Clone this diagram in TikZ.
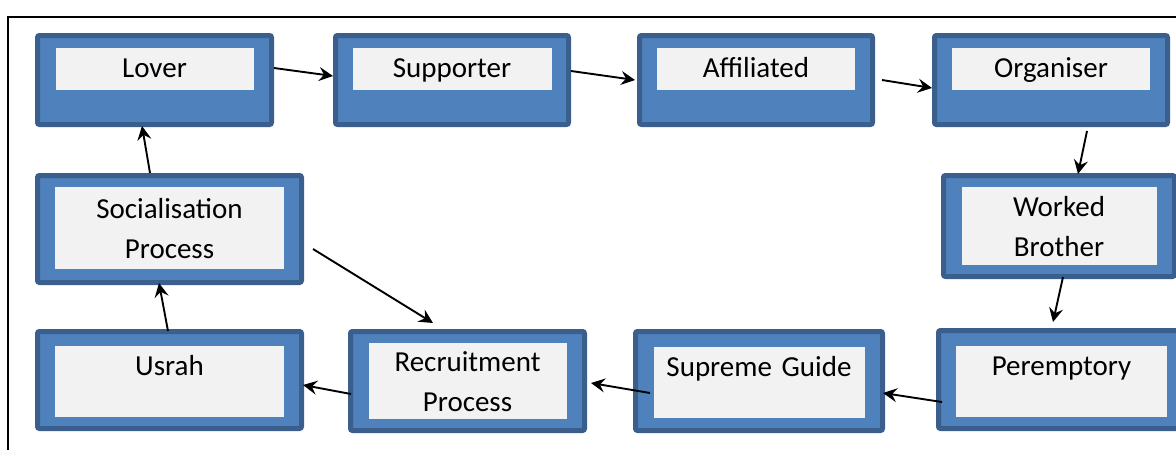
\documentclass[tikz,border=0pt]{standalone}
\usepackage{fontspec}
\setmainfont{Carlito}
\usetikzlibrary{arrows.meta,positioning}
\definecolor{boxblue}{HTML}{4F81BD}
\definecolor{boxedge}{HTML}{3A5F8C}
\definecolor{panegrey}{HTML}{F2F2F2}

\begin{document}
\begin{tikzpicture}[
  x=1pt, y=-1pt,
  font=\fontsize{29}{40}\selectfont,
  box/.style={draw=boxedge, line width=5pt, fill=boxblue, rounded corners=2pt, inner sep=0pt},
  pane/.style={fill=panegrey, inner sep=0pt, align=center},
  arrow/.style={-{Stealth[length=14pt,width=14pt,inset=5pt]}, line width=1.9pt}
]
\useasboundingbox (0,0) rectangle (1176,450);
\clip (0,0) rectangle (1176,450);

% frame round the figure
\draw[line width=2pt] (8,452) -- (8,16.5) -- (1178,16.5);

% Row 1 -- the stages of membership
\node[box, minimum width=234pt, minimum height=89pt] (lover) at (154.5,80) {};
\node[box, minimum width=233pt, minimum height=89pt] (supporter) at (452,80) {};
\node[box, minimum width=233pt, minimum height=89pt] (affiliated) at (756,80) {};
\node[box, minimum width=233pt, minimum height=89pt] (organiser) at (1051,80) {};
\node[pane, text width=198pt, minimum height=42pt, below=15pt of lover.north] (lover-p) {\strut Lover};
\node[pane, text width=199pt, minimum height=42pt, below=15pt of supporter.north] (supporter-p) {\strut Supporter};
\node[pane, text width=198pt, minimum height=42pt, below=15pt of affiliated.north] (affiliated-p) {\strut Affiliated};
\node[pane, text width=198pt, minimum height=42pt, below=15pt of organiser.north] (organiser-p) {\strut Organiser};

% Row 2 -- the two sides of the cycle
\node[box, minimum width=264pt, minimum height=107pt] (social) at (169.5,229) {};
\node[box, minimum width=231pt, minimum height=101pt] (worked) at (1059,226) {};
\node[pane, text width=229pt, minimum height=82pt, below=14pt of social.north] (social-p) {Socialisation\\Process};
\node[pane, text width=195pt, minimum height=78pt, below=14pt of worked.north] (worked-p) {Worked\\Brother};

% Row 3 -- the way back
\node[box, minimum width=264pt, minimum height=97pt] (usrah) at (169.5,380) {};
\node[box, minimum width=234pt, minimum height=99pt] (recruit) at (467.5,381) {};
\node[box, minimum width=247pt, minimum height=99pt] (supreme) at (759,381) {};
\node[box, minimum width=246pt, minimum height=98pt] (perempt) at (1061.5,379.5) {};
\node[pane, text width=229pt, minimum height=71pt, below=17pt of usrah.north] (usrah-p) {\strut Usrah\\\mbox{}};
\node[pane, text width=198pt, minimum height=76pt, below=14pt of recruit.north] (recruit-p) {Recruitment\\Process};
\node[pane, text width=211pt, minimum height=71pt, below=18pt of supreme.north] (supreme-p) {\strut Supreme Guide\\\mbox{}};
\node[pane, text width=211pt, minimum height=71pt, below=18pt of perempt.north] (perempt-p) {\strut Peremptory\\\mbox{}};

\draw[arrow] ([yshift=12pt]lover.east) -- ([yshift=4pt]supporter.west);
\draw[arrow] ([yshift=9pt]supporter.east) -- ([xshift=-2pt]affiliated.west);
\draw[arrow] ([xshift=7pt]affiliated.east) -- ([yshift=-8pt]organiser.west);
\draw[arrow] ([xshift=36pt,yshift=-4pt]organiser.south) -- ([xshift=19pt,yshift=-1pt]worked.north);
\draw[arrow] ([xshift=4pt,yshift=2pt]worked.south) -- ([xshift=-8.5pt,yshift=6pt]perempt.north);
\draw[arrow] ([xshift=6pt,yshift=-22.5pt]perempt.west) -- ([xshift=-2pt,yshift=-12pt]supreme.east);
\draw[arrow] ([xshift=17pt,yshift=-12pt]supreme.west) -- ([xshift=4pt,yshift=-2pt]recruit.east);
\draw[arrow] ([xshift=3pt,yshift=-13pt]recruit.west) -- ([xshift=-1pt,yshift=-5pt]usrah.east);
\draw[arrow] ([xshift=-1.5pt,yshift=-2pt]usrah.north) -- ([xshift=-10.5pt,yshift=2pt]social.south);
\draw[arrow] ([xshift=-19.5pt]social.north) -- ([xshift=-12.5pt,yshift=1pt]lover.south);
\draw[arrow] ([xshift=9pt,yshift=-20pt]social.east) -- ([xshift=-34.5pt,yshift=6pt]recruit.north);

\end{tikzpicture}
\end{document}
